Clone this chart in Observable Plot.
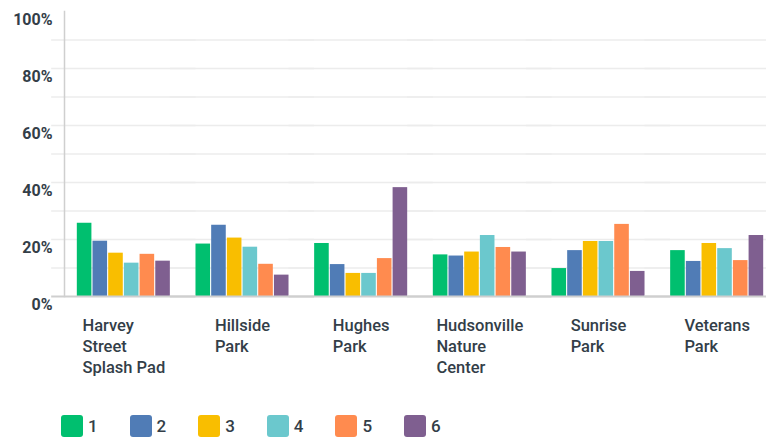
<!DOCTYPE html>
<html>
<head>
<meta charset="utf-8">
<script src="https://cdn.jsdelivr.net/npm/d3@7"></script>
<script src="https://cdn.jsdelivr.net/npm/@observablehq/plot@0.6"></script>
<style>
  body { margin: 0; background: #fff; font-family: Roboto, "Noto Sans", sans-serif; }
  #legend { display: flex; padding-left: 61px; margin-top: 14px; height: 24px; }
  .item { display: flex; align-items: center; width: 68.6px; }
  .sw { width: 22px; height: 22px; border-radius: 3px; margin-right: 5px; }
  .lab { font-size: 17px; font-weight: 500; color: #333e48; }
</style>
</head>
<body>
<div id="chart"></div>
<div id="legend"></div>
<script>
const parks = ["Harvey Street Splash Pad", "Hillside Park", "Hughes Park", "Hudsonville Nature Center", "Sunrise Park", "Veterans Park"];
const parkLabels = ["Harvey\nStreet\nSplash Pad", "Hillside\nPark", "Hughes\nPark", "Hudsonville\nNature\nCenter", "Sunrise\nPark", "Veterans\nPark"];
const series = ["1", "2", "3", "4", "5", "6"];
const colors = ["#00bf6f", "#507cb6", "#f9be00", "#6bc8cd", "#ff8b4f", "#7f5f90"];
const s1 = [25.7, 18.4, 18.6, 14.6, 9.8, 16.1];
const s2 = [19.4, 25.0, 11.2, 14.2, 16.1, 12.3];
const s3 = [15.2, 20.5, 8.1, 15.6, 19.3, 18.6];
const s4 = [11.7, 17.3, 8.1, 21.4, 19.3, 16.8];
const s5 = [14.8, 11.3, 13.3, 17.2, 25.3, 12.6];
const s6 = [12.4, 7.5, 38.2, 15.6, 8.8, 21.4];
const yTicks = [0, 0.2, 0.4, 0.6, 0.8, 1];
const gridTicks = [0.1, 0.2, 0.3, 0.4, 0.5, 0.6, 0.7, 0.8, 0.9];

const seriesValues = [s1, s2, s3, s4, s5, s6];
const data = [];
parks.forEach((p, i) => series.forEach((s, j) => data.push({park: p, series: s, value: seriesValues[j][i] / 100})));

const W = 766, mL = 64, fxRange = [64, 776], padIn = 0.216, padOut = 0.108;
const step = (fxRange[1] - fxRange[0]) / (parks.length - padIn + 2 * padOut);
const outer = padOut * step;          // gap between axis and first group
const gap = padIn * step;             // gap between groups

const textColor = "#333e48";
const labelFont = 16.5;
const ctx = document.createElement("canvas").getContext("2d");
ctx.font = `500 ${labelFont}px Roboto`;
const labelMarks = parks.map((p, i) => {
  const w = d3.max(parkLabels[i].split("\n"), l => ctx.measureText(l).width);
  return Plot.text([p], {
    fx: d => d, text: () => parkLabels[i],
    frameAnchor: "bottom", lineAnchor: "top", textAnchor: "start",
    dx: -w / 2, dy: 20, lineHeight: 21 / labelFont,
    fontSize: labelFont, fontWeight: 500, fill: textColor
  });
});

const chart = Plot.plot({
  width: W,
  height: 400,
  marginTop: 11,
  marginBottom: 104,
  marginLeft: mL,
  marginRight: 0,
  style: {fontFamily: "Roboto, sans-serif"},
  fx: {domain: parks, range: fxRange, paddingInner: padIn, paddingOuter: padOut, round: false, axis: null},
  x: {domain: series, paddingInner: 0.07, paddingOuter: 0, round: false, axis: null},
  y: {domain: [0, 1], axis: null},
  color: {domain: series, range: colors},
  marks: [
    Plot.ruleY(gridTicks, {stroke: "#ececec", strokeWidth: 1.5, insetLeft: -gap, insetRight: -gap}),
    Plot.barY(data, {fx: "park", x: "series", y: "value", fill: "series"}),
    Plot.ruleY([0], {stroke: "#cfcfcf", strokeWidth: 2, insetLeft: -gap, insetRight: -gap}),
    Plot.frame({anchor: "left", facetAnchor: "left", stroke: "#cfcfcf", strokeWidth: 1.5, insetLeft: -outer}),
    Plot.axisY(yTicks, {anchor: "left", tickSize: 0, tickPadding: 12 + outer, dy: 8,
      tickFormat: d3.format(".0%"), fontSize: 16, fontWeight: 700, fill: textColor, label: null}),
    ...labelMarks
  ]
});
document.getElementById("chart").appendChild(chart);

const legend = document.getElementById("legend");
series.forEach((s, i) => {
  const item = document.createElement("div");
  item.className = "item";
  item.innerHTML = `<div class="sw" style="background:${colors[i]}"></div><span class="lab">${s}</span>`;
  legend.appendChild(item);
});
</script>
</body>
</html>
